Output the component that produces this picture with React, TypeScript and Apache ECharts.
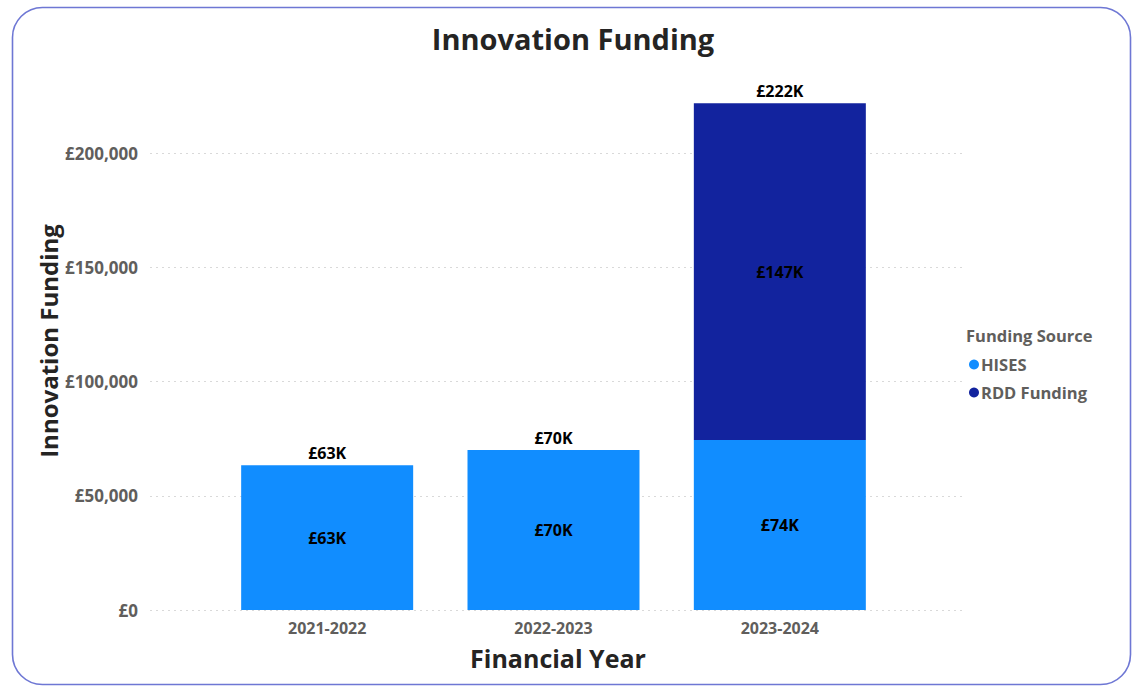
import React, { useEffect, useRef } from "react";
import * as echarts from "echarts";

const categories = ["2021-2022", "2022-2023", "2023-2024"];
const hisesValues = [63400, 70000, 74400];
const rddValues = [0, 0, 147400];
const yTicks = [0, 50000, 100000, 150000, 200000];

const fmtK = (v: number) => "£" + Math.round(v / 1000) + "K";
const fmtTick = (v: number) => "£" + v.toLocaleString("en-GB");

export default function App() {
  const ref = useRef<HTMLDivElement>(null);
  useEffect(() => {
    if (!ref.current) return;
    const chart = echarts.init(ref.current, null, { renderer: "svg" });
    const totals = categories.map((_, i) => hisesValues[i] + rddValues[i]);
    const font = "'Open Sans', 'Noto Sans', sans-serif";
    const top = 153;
    const bottom = 686 - 610;
    const yMax = yTicks[yTicks.length - 1];
    const valueLabel = {
      color: "#000000",
      fontSize: 16,
      fontWeight: "bold",
      fontFamily: font,
    };
    chart.setOption({
      animation: false,
      textStyle: { fontFamily: font },
      grid: [
        { left: 150, right: 1139 - 965, top, bottom },
        { left: 214, right: 1139 - 893, top, bottom },
      ],
      xAxis: [
        { type: "value", gridIndex: 0, show: false, min: 0, max: 1 },
        {
          type: "category",
          gridIndex: 1,
          data: categories,
          axisLine: { show: false },
          axisTick: { show: false },
          axisLabel: {
            color: "#605E5C",
            fontSize: 16,
            fontWeight: "bold",
            fontFamily: font,
            margin: 10,
          },
        },
      ],
      yAxis: [
        {
          type: "value",
          gridIndex: 0,
          min: 0,
          max: yMax,
          interval: 50000,
          axisLine: { show: false },
          axisTick: { show: false },
          axisLabel: {
            color: "#605E5C",
            fontSize: 17,
            fontWeight: "bold",
            fontFamily: font,
            margin: 12,
            formatter: (v: number) => fmtTick(v),
          },
          splitLine: {
            lineStyle: { color: "#D9D9D9", type: [2, 4], width: 1 },
          },
        },
        {
          type: "value",
          gridIndex: 1,
          min: 0,
          max: yMax,
          interval: 50000,
          show: false,
          splitLine: { show: false },
        },
      ],
      legend: {
        orient: "vertical",
        left: 964,
        top: 351,
        data: ["HISES", "RDD Funding"],
        icon: "circle",
        itemWidth: 10,
        itemHeight: 10,
        itemGap: 11,
        textStyle: {
          color: "#605E5C",
          fontSize: 16.5,
          fontWeight: "bold",
          fontFamily: font,
          padding: [0, 0, 0, -3],
        },
      },
      graphic: [
        {
          type: "rect",
          shape: { x: 12.5, y: 7.5, width: 1118, height: 677, r: 30 },
          style: { fill: "none", stroke: "#6E77D4", lineWidth: 1.6 },
          z: -1,
        },
        {
          type: "text",
          x: 573,
          y: 38,
          style: {
            text: "Innovation Funding",
            font: `bold 29px ${font}`,
            fill: "#252423",
            align: "center",
            verticalAlign: "middle",
          },
        },
        {
          type: "text",
          left: 966,
          top: 327,
          style: {
            text: "Funding Source",
            font: `bold 16.5px ${font}`,
            fill: "#605E5C",
          },
        },
        {
          type: "text",
          x: 558,
          y: 658,
          style: {
            text: "Financial Year",
            font: `bold 25px ${font}`,
            fill: "#252423",
            align: "center",
            verticalAlign: "middle",
          },
        },
        {
          type: "text",
          x: 48,
          y: 341,
          rotation: Math.PI / 2,
          style: {
            text: "Innovation Funding",
            font: `bold 24px ${font}`,
            fill: "#252423",
            align: "center",
            verticalAlign: "middle",
          },
        },
      ],
      series: [
        {
          name: "HISES",
          type: "bar",
          xAxisIndex: 1,
          yAxisIndex: 1,
          stack: "total",
          barWidth: 172,
          clip: false,
          data: hisesValues,
          itemStyle: { color: "#118DFF" },
          label: {
            show: true,
            position: "inside",
            ...valueLabel,
            formatter: (p: any) => (p.value ? fmtK(p.value) : ""),
          },
        },
        {
          name: "RDD Funding",
          type: "bar",
          xAxisIndex: 1,
          yAxisIndex: 1,
          stack: "total",
          barWidth: 172,
          clip: false,
          data: rddValues,
          itemStyle: { color: "#12239E" },
          label: {
            show: true,
            position: "inside",
            ...valueLabel,
            formatter: (p: any) => (p.value ? fmtK(p.value) : ""),
          },
        },
        {
          name: "Total",
          type: "bar",
          xAxisIndex: 1,
          yAxisIndex: 1,
          stack: "total",
          barWidth: 172,
          clip: false,
          data: categories.map(() => 0),
          itemStyle: { color: "transparent" },
          label: {
            show: true,
            position: "top",
            distance: 4,
            ...valueLabel,
            formatter: (p: any) => fmtK(totals[p.dataIndex]),
          },
        },
      ],
    });
    return () => chart.dispose();
  }, []);
  return (
    <div
      ref={ref}
      style={{ position: "fixed", left: 0, top: 0, width: 1139, height: 686, background: "#ffffff" }}
    />
  );
}
